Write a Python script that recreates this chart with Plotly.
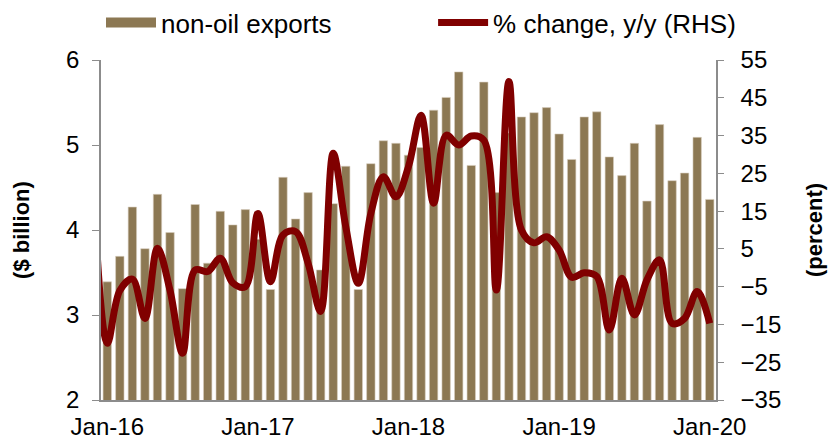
import plotly.graph_objects as go

# month labels: Dec-15 .. Jan-20 (line starts one month before the bars)
LINE_MONTHS = ['Dec-15',
               'Jan-16', 'Feb-16', 'Mar-16', 'Apr-16', 'May-16', 'Jun-16', 'Jul-16', 'Aug-16', 'Sep-16', 'Oct-16', 'Nov-16', 'Dec-16',
               'Jan-17', 'Feb-17', 'Mar-17', 'Apr-17', 'May-17', 'Jun-17', 'Jul-17', 'Aug-17', 'Sep-17', 'Oct-17', 'Nov-17', 'Dec-17',
               'Jan-18', 'Feb-18', 'Mar-18', 'Apr-18', 'May-18', 'Jun-18', 'Jul-18', 'Aug-18', 'Sep-18', 'Oct-18', 'Nov-18', 'Dec-18',
               'Jan-19', 'Feb-19', 'Mar-19', 'Apr-19', 'May-19', 'Jun-19', 'Jul-19', 'Aug-19', 'Sep-19', 'Oct-19', 'Nov-19', 'Dec-19',
               'Jan-20']
BAR_MONTHS = LINE_MONTHS[1:]
TICK_LABELS = ['Jan-16', 'Jan-17', 'Jan-18', 'Jan-19', 'Jan-20']

# non-oil exports, $ billion
EXPORTS = [3.39, 3.69, 4.27, 3.78, 4.42, 3.97, 3.31, 4.30, 3.61, 4.22, 4.06, 4.24,
           3.89, 3.30, 4.62, 4.13, 4.44, 3.53, 4.31, 4.75, 3.30, 4.78, 5.05, 5.02,
           4.88, 4.97, 5.41, 5.56, 5.86, 4.76, 5.74, 4.44, 5.14, 5.33, 5.38, 5.44,
           5.13, 4.83, 5.33, 5.39, 4.86, 4.64, 5.02, 4.34, 5.24, 4.58, 4.67, 5.09,
           4.36]

# % change y/y (RHS)
YOY = [15,
       -20, -6, -3, -13.4, 5.2, -6, -22.6, -0.6, -1, 2.5, -4, -5,
       14.4, -3.7, 8.7, 9.6, 1.2, -11.6, 30.3, 10.9, -4.1, 14.4, 24.1, 18.8,
       26.8, 40.4, 17.1, 35.1, 32.5, 34.9, 33.8, -5.9, 49.3, 10, 6.6, 8.2,
       4.7, -2.5, -1.3, -2.3, -16.5, -2.8, -12.5, -3.2, 2.1, -14.7, -13.4, -6.3,
       -14.7]

BAR_COLOR = '#8c7853'
LINE_COLOR = '#800000'
AXIS_COLOR = '#8c8c8c'
FONT = 'Liberation Sans, Arial, sans-serif'

bar_x = list(range(len(BAR_MONTHS)))
line_x = [i - 1 for i in range(len(LINE_MONTHS))]
tick_x = [BAR_MONTHS.index(t) for t in TICK_LABELS]

fig = go.Figure()

fig.add_trace(go.Bar(x=bar_x, y=EXPORTS, marker_color=BAR_COLOR,
                     marker_line=dict(color='#d8cfbf', width=0.6),
                     showlegend=False, yaxis='y'))
fig.add_trace(go.Scatter(x=line_x, y=YOY, mode='lines', yaxis='y2',
                         line=dict(color=LINE_COLOR, width=7, shape='spline', smoothing=1),
                         showlegend=False))

# legend entries (one legend each so they can sit where the reference has them)
fig.add_trace(go.Scatter(x=[None], y=[None], mode='lines', name='non-oil exports',
                         line=dict(color=BAR_COLOR, width=10), legend='legend'))
fig.add_trace(go.Scatter(x=[None], y=[None], mode='lines', name='% change, y/y (RHS)',
                         line=dict(color=LINE_COLOR, width=7), legend='legend2'))

legend_style = dict(orientation='h', xanchor='left', y=1.11, yanchor='middle',
                    itemwidth=50, font=dict(size=26), bgcolor='rgba(0,0,0,0)')

fig.update_layout(
    width=835, height=441,
    margin=dict(l=101, r=119, t=60, b=41, autoexpand=False),
    plot_bgcolor='white', paper_bgcolor='white',
    font=dict(family=FONT, size=24, color='black'),
    bargap=0.33,
    legend=dict(x=0.0, **legend_style),
    legend2=dict(x=0.54, **legend_style),
    xaxis=dict(range=[-0.5, len(BAR_MONTHS) - 0.5], tickmode='array',
               tickvals=tick_x, ticktext=TICK_LABELS, showline=True,
               linecolor=AXIS_COLOR, linewidth=1.5, ticks='', showgrid=False,
               zeroline=False, ticklabelstandoff=4, automargin=False),
    yaxis=dict(range=[2, 6], dtick=1, showline=True, linecolor=AXIS_COLOR,
               linewidth=1.5, ticks='outside', ticklen=7, tickcolor=AXIS_COLOR,
               showgrid=False, zeroline=False, ticklabelstandoff=8, automargin=False,
               title=dict(text='<b>($ billion)</b>', font=dict(size=22), standoff=30)),
    yaxis2=dict(range=[-35, 55], tick0=-35, dtick=10, overlaying='y', side='right',
                showline=True, linecolor=AXIS_COLOR, linewidth=1.5,
                ticks='outside', ticklen=6, tickcolor=AXIS_COLOR, automargin=False,
                showgrid=False, zeroline=False, ticklabelstandoff=12,
                title=dict(text='<b>(percent)</b>', font=dict(size=22), standoff=26)),
)

# the page body has a default margin; drop it so the figure fills the window
fig.write_html('out.html', config={'displayModeBar': False},
               post_script="document.body.style.margin='0';")
